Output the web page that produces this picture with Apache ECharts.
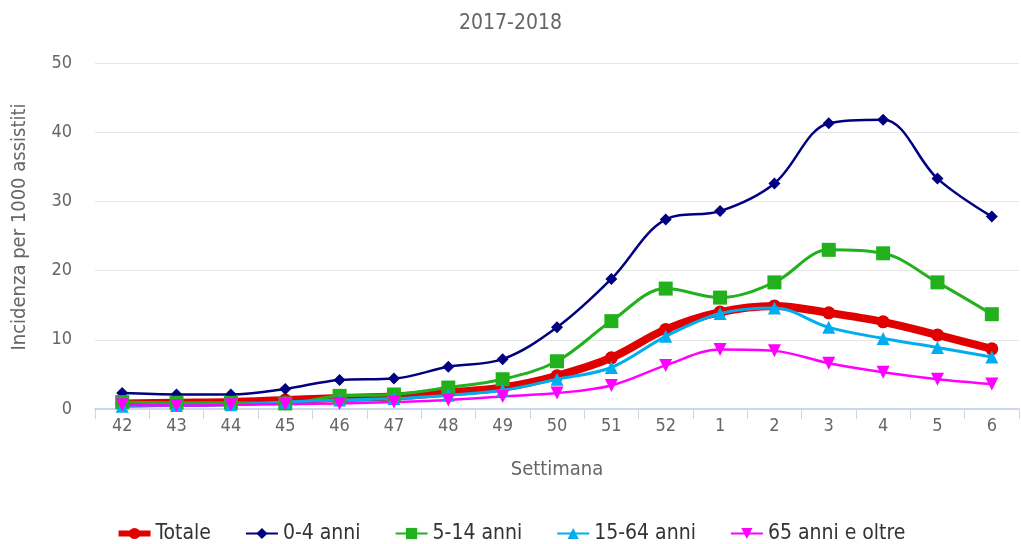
<!DOCTYPE html>
<html>
<head>
<meta charset="utf-8">
<script src="https://cdn.jsdelivr.net/npm/echarts@6/dist/echarts.min.js"></script>
<style>
  html, body { margin: 0; padding: 0; background: #fff; }
  #main { width: 1021px; height: 544px; }
</style>
</head>
<body>
<div id="main"></div>
<script>
let weeks = ["42", "43", "44", "45", "46", "47", "48", "49", "50", "51", "52", "1", "2", "3", "4", "5", "6"];
let totale = [0.8, 0.9, 1.0, 1.3, 1.6, 1.8, 2.4, 3.1, 4.8, 7.4, 11.5, 14.0, 14.9, 13.9, 12.6, 10.7, 8.7];
let anni0_4 = [2.3, 2.1, 2.1, 2.9, 4.2, 4.4, 6.1, 7.2, 11.8, 18.8, 27.4, 28.6, 32.6, 41.3, 41.8, 33.3, 27.8];
let anni5_14 = [1.0, 0.9, 0.9, 0.8, 1.9, 2.1, 3.1, 4.3, 6.9, 12.7, 17.4, 16.1, 18.3, 23.0, 22.5, 18.3, 13.7];
let anni15_64 = [0.4, 0.5, 0.6, 1.0, 1.3, 1.5, 2.0, 2.7, 4.3, 6.0, 10.5, 13.8, 14.6, 11.8, 10.2, 8.9, 7.5];
let anni65 = [0.6, 0.5, 0.6, 0.7, 0.8, 1.0, 1.3, 1.8, 2.3, 3.4, 6.3, 8.6, 8.4, 6.6, 5.3, 4.3, 3.6];
let yTicks = [0, 10, 20, 30, 40, 50];

let chart = echarts.init(document.getElementById("main"));
let font = "'DejaVu Sans Condensed', 'DejaVu Sans'";

function serie(name, data, color, symbol, size, width, rotate) {
  return {
    name: name,
    type: "line",
    data: data,
    smooth: 0.35,
    symbol: symbol,
    symbolSize: size,
    symbolRotate: rotate || 0,
    showAllSymbol: true,
    lineStyle: { color: color, width: width },
    itemStyle: { color: color },
  };
}

let option = {
  animation: false,
  textStyle: { fontFamily: font },
  title: {
    text: "2017-2018",
    left: "center",
    top: 8,
    textStyle: { color: "#666", fontSize: 21, fontWeight: "normal", fontFamily: font },
  },
  grid: { left: 95, right: 2, top: 63, bottom: 135 },
  legend: {
    top: 518,
    left: "center",
    itemWidth: 32,
    itemHeight: 14,
    itemGap: 34,
    textStyle: { color: "#333", fontSize: 21, fontFamily: font },
    data: [
      { name: "Totale", lineStyle: { width: 6 } },
      { name: "0-4 anni" },
      { name: "5-14 anni" },
      { name: "15-64 anni" },
      { name: "65 anni e oltre" },
    ],
  },
  xAxis: {
    type: "category",
    data: weeks,
    name: "Settimana",
    nameLocation: "middle",
    nameGap: 51,
    nameTextStyle: { color: "#666", fontSize: 20, fontFamily: font },
    axisLine: { lineStyle: { color: "#ccd6eb", width: 2 } },
    axisTick: { show: true, length: 10, lineStyle: { color: "#ccd6eb" } },
    axisLabel: { color: "#666", fontSize: 18, margin: 8, fontFamily: font },
  },
  yAxis: {
    type: "value",
    min: yTicks[0],
    max: yTicks[yTicks.length - 1],
    interval: 10,
    name: "Incidenza per 1000 assistiti",
    nameLocation: "middle",
    nameGap: 65,
    nameTextStyle: { color: "#666", fontSize: 20, fontFamily: font, padding: [0, 0, 0, 18] },
    axisLabel: { color: "#666", fontSize: 18, margin: 23, fontFamily: font },
    splitLine: { lineStyle: { color: "#e6e6e6" } },
  },
  series: [
    serie("0-4 anni", anni0_4, "#000080", "diamond", 12, 2.5),
    serie("5-14 anni", anni5_14, "#22b11c", "rect", 14, 3),
    serie("15-64 anni", anni15_64, "#00aeef", "triangle", 13, 3),
    serie("65 anni e oltre", anni65, "#ff00ff", "triangle", 13, 2.5, 180),
    serie("Totale", totale, "#e00000", "circle", 13, 8),
  ],
};
// legend order: Totale first
option.series.unshift(option.series.pop());
option.series[0].z = 1;
chart.setOption(option);
</script>
</body>
</html>
